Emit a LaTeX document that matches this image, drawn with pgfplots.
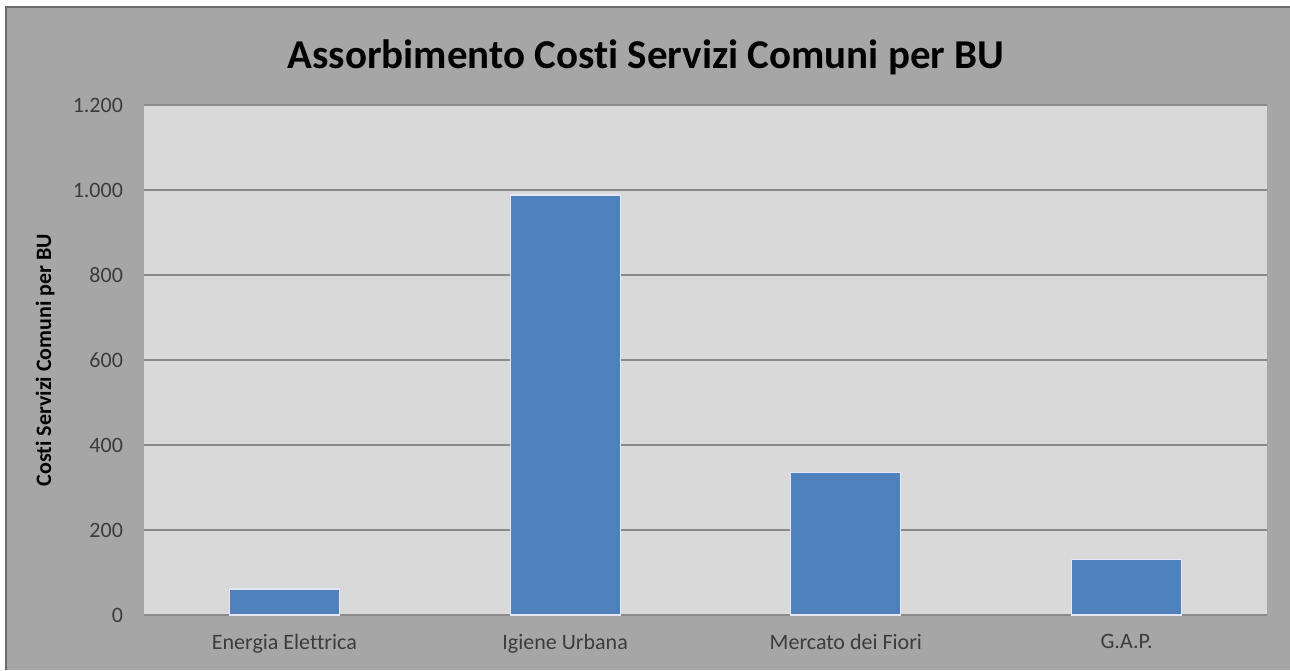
\documentclass[border=0pt]{standalone}
\usepackage{fontspec}
\setmainfont[Ligatures=NoCommon]{Carlito}
\usepackage{pgfplots}
\pgfplotsset{compat=1.18}
\definecolor{chartbg}{HTML}{A6A6A6}
\definecolor{plotbg}{HTML}{D9D9D9}
\definecolor{barblue}{HTML}{4F81BD}
\definecolor{gridgray}{HTML}{8A8A8A}
\definecolor{ticktext}{HTML}{3C3C3C}
\begin{document}
\begin{tikzpicture}
\path[use as bounding box] (0,0) rectangle (645pt,335pt);
\fill[white] (0,0) rectangle (645pt,335pt);
\fill[chartbg] (3pt,0) rectangle (645pt,331.5pt);
\draw[gray!85!black, line width=0.8pt] (3pt,0) -- (3pt,331.5pt) -- (645pt,331.5pt);
\node[font=\bfseries\fontsize{20.5}{24}\selectfont, anchor=center] at (323pt,306.5pt)
  {Assorbimento Costi Servizi Comuni per BU};
\begin{axis}[
  at={(72pt,27.5pt)}, anchor=south west,
  scale only axis, width=561.5pt, height=255pt,
  axis background/.style={fill=plotbg},
  axis line style={draw=none},
  ybar, bar width=55pt,
  xmin=-0.5, xmax=3.5,
  ymin=0, ymax=1200,
  ytick={0,200,400,600,800,1000,1200},
  xtick=data,
  xticklabels={Energia Elettrica, Igiene Urbana, Mercato dei Fiori, G.A.P.},
  major tick length=0,
  ymajorgrids=true,
  grid style={gridgray, line width=0.7pt},
  /pgf/number format/.cd, 1000 sep={.}, assume math mode=true,
  /pgfplots/.cd,
  ticklabel style={font=\fontsize{11}{13}\selectfont, text=ticktext},
  yticklabel style={xshift=-7pt},
  xticklabel style={yshift=-6pt},
  ylabel={Costi Servizi Comuni per BU},
  ylabel style={font=\bfseries\fontsize{11}{13}\selectfont, at={(axis description cs:-0.088,0.5)}, anchor=center},
]
\addplot[fill=barblue, draw=blue!10!white, line width=0.6pt] coordinates {
  (0,61) (1,988) (2,336) (3,131)
};
\end{axis}
\end{tikzpicture}
\end{document}
